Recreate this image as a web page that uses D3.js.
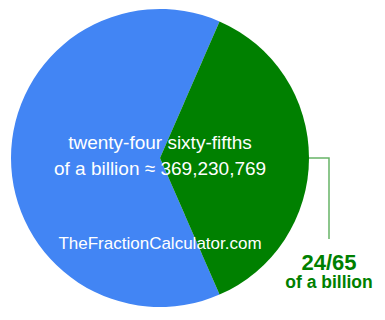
<!DOCTYPE html>
<html>
<head>
<meta charset="utf-8">
<script src="https://cdn.jsdelivr.net/npm/d3@7"></script>
<style>
  body { margin: 0; background: #fff; }
  svg { display: block; font-family: Arial, "Liberation Sans", sans-serif; }
</style>
</head>
<body>
<script>
var slices = ["rest", "part"];
var values = [41, 24];
var colors = ["#4285f4", "#008000"];
var centerLines = ["twenty-four sixty-fifths", "of a billion \u2248 369,230,769"];
var siteLabel = "TheFractionCalculator.com";
var fracLabel = ["24/65", "of a billion"];

var width = 385, height = 320;
var cx = 160, cy = 158, radius = 149;

var svg = d3.select("body").append("svg")
    .attr("width", width)
    .attr("height", height);

// green slice centred on the right, so rotate start angle
var partAngle = 2 * Math.PI * values[1] / d3.sum(values);
var start = Math.PI / 2 + partAngle / 2;
var pie = d3.pie().sort(null).value(function(d) { return d; })
    .startAngle(start).endAngle(start + 2 * Math.PI);
var arc = d3.arc().innerRadius(0).outerRadius(radius);

var g = svg.append("g").attr("transform", "translate(" + cx + "," + cy + ")");
g.selectAll("path")
    .data(pie(values))
    .enter().append("path")
    .attr("d", arc)
    .attr("fill", function(d, i) { return colors[i]; });

// centre text
g.selectAll(".center")
    .data(centerLines)
    .enter().append("text")
    .attr("class", "center")
    .attr("text-anchor", "middle")
    .attr("x", 0)
    .attr("y", function(d, i) { return -9 + i * 26; })
    .attr("fill", "#fff")
    .style("font-size", "19px")
    .text(function(d) { return d; });

g.append("text")
    .attr("text-anchor", "middle")
    .attr("x", 0)
    .attr("y", 91)
    .attr("fill", "#fff")
    .style("font-size", "17px")
    .text(siteLabel);

// leader line from the green slice
var mid = Math.PI / 2;
var px = Math.sin(mid) * radius, py = -Math.cos(mid) * radius;
g.append("path")
    .attr("d", "M" + px + "," + py + "H" + (px + 20) + "V" + (py + 81))
    .attr("fill", "none")
    .attr("stroke", "#008000")
    .attr("stroke-opacity", 0.6)
    .attr("stroke-width", 1.5);

g.append("text")
    .attr("text-anchor", "middle")
    .attr("x", px + 20)
    .attr("y", py + 112)
    .attr("fill", "#008000")
    .style("font-size", "22px")
    .style("font-weight", "bold")
    .text(fracLabel[0]);

g.append("text")
    .attr("text-anchor", "middle")
    .attr("x", px + 20)
    .attr("y", py + 130)
    .attr("fill", "#008000")
    .style("font-size", "17.5px")
    .style("font-weight", "bold")
    .text(fracLabel[1]);
</script>
</body>
</html>
